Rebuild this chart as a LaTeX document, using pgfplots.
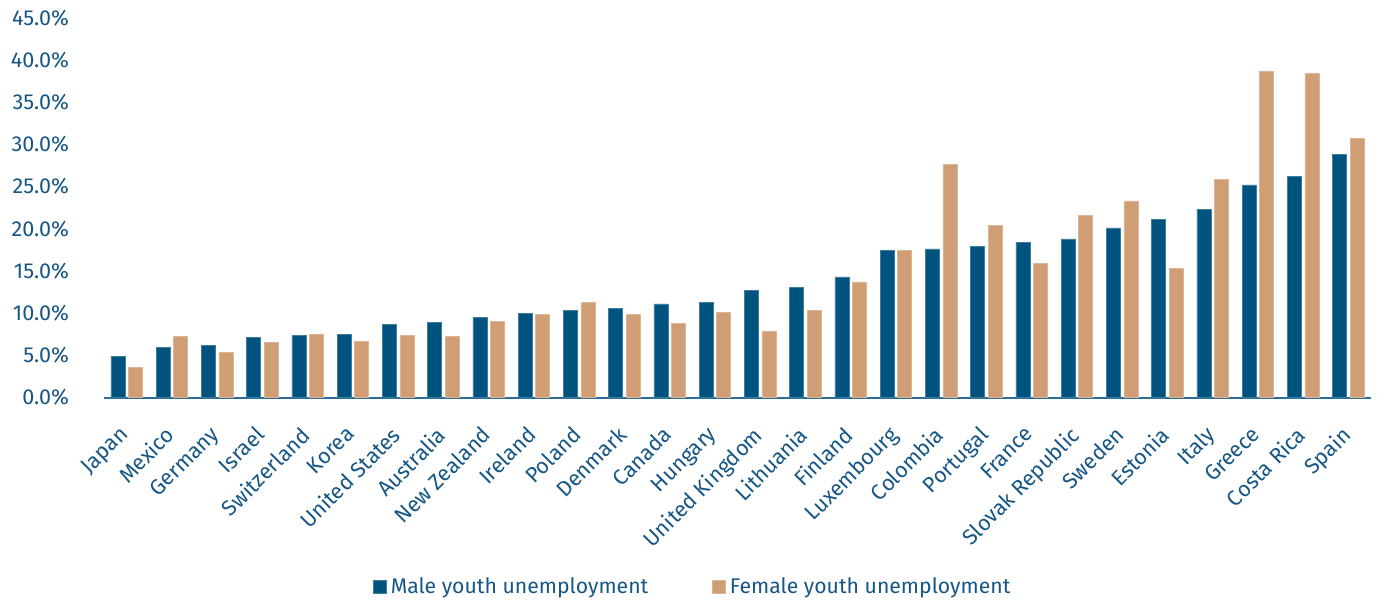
\documentclass[border=0pt]{standalone}
\usepackage{fontspec}
\setmainfont{Fira Sans}
\usepackage{pgfplots}
\pgfplotsset{compat=1.18}
\definecolor{male}{HTML}{00537F}
\definecolor{female}{HTML}{D09E74}
\definecolor{txt}{RGB}{22,86,133}
\definecolor{axl}{HTML}{2A6D98}
\pgfplotstableread{
x male female
0 4.9 3.6
1 5.9 7.2
2 6.2 5.3
3 7.1 6.5
4 7.4 7.5
5 7.5 6.6
6 8.7 7.4
7 8.9 7.2
8 9.5 9.0
9 10.0 9.8
10 10.3 11.3
11 10.6 9.8
12 11.1 8.8
13 11.3 10.1
14 12.7 7.9
15 13.0 10.3
16 14.3 13.7
17 17.4 17.4
18 17.6 27.6
19 17.9 20.4
20 18.4 15.9
21 18.8 21.6
22 20.1 23.3
23 21.1 15.3
24 22.3 25.8
25 25.2 38.7
26 26.2 38.4
27 28.8 30.7
}\datatable
\begin{document}
\begin{tikzpicture}
\begin{axis}[
  scale only axis, width=633.5pt, height=189.9pt,
  xmin=-0.5, xmax=27.5, ymin=0, ymax=45,
  ybar=1.8pt, bar width=7pt,
  axis lines*=left,
  x axis line style={axl, line width=1pt, -},
  y axis line style={draw=none},
  tick style={draw=none},
  ytick={0,5,...,45},
  yticklabel={\pgfmathprintnumber[fixed,fixed zerofill,precision=1]{\tick}\%},
  /pgf/number format/assume math mode=true,
  xtick={0,...,27},
  xticklabels={Japan,Mexico,Germany,Israel,Switzerland,Korea,United States,Australia,New Zealand,Ireland,Poland,Denmark,Canada,Hungary,United Kingdom,Lithuania,Finland,Luxembourg,Colombia,Portugal,France,Slovak Republic,Sweden,Estonia,Italy,Greece,Costa Rica,Spain},
  tick label style={font=\fontsize{10.8}{13}\selectfont, text=txt},
  yticklabel style={anchor=east, xshift=-14pt},
  xticklabel style={xshift=-4pt, yshift=-4.5pt, rotate=45, anchor=north east},
  legend style={at={(0.4655,-0.499)}, anchor=center, draw=none, fill=none,
    legend columns=2, font=\fontsize{10.6}{13}\selectfont, text=txt,
    /tikz/every even column/.append style={column sep=30pt}},
  legend image code/.code={\fill[#1] (0pt,-3.25pt) rectangle (6.5pt,3.25pt);},
]
\addplot[fill=male, draw=male!75!white, line width=0.3pt] table[x=x, y=male] {\datatable};
\addlegendentry{Male youth unemployment}
\addplot[fill=female, draw=female!75!white, line width=0.3pt] table[x=x, y=female] {\datatable};
\addlegendentry{Female youth unemployment}
\end{axis}
\pgfresetboundingbox
\useasboundingbox (-52pt,-103.75pt) rectangle (639.5pt,198.75pt);
\end{tikzpicture}
\end{document}
